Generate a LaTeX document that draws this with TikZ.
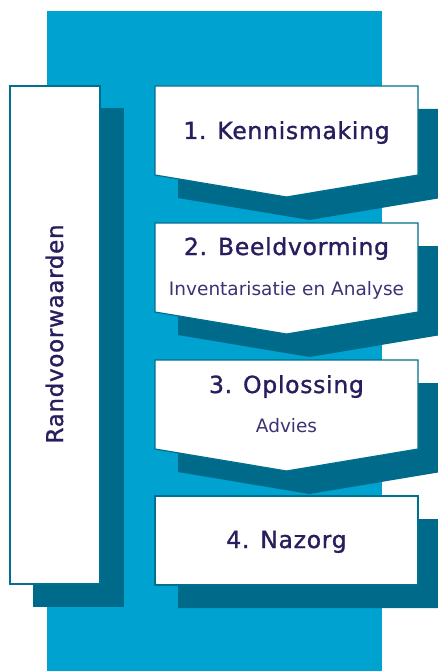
\documentclass[tikz,border=0pt]{standalone}
\usepackage{fontspec}
\setmainfont{DejaVu Sans}
\newfontfamily\heavysans{DejaVu Sans}[FakeBold=1.2, LetterSpace=3]

\definecolor{backblue}{HTML}{00A2D0}
\definecolor{shadeblue}{HTML}{006A8B}
\definecolor{rimblue}{HTML}{00708F}
\definecolor{ink}{HTML}{2A1D5E}
\definecolor{inklight}{HTML}{3B3474}

\begin{document}
\begin{tikzpicture}[x=1pt, y=-1pt,
  shade/.style={fill=shadeblue, draw=none},
  card/.style={fill=white, draw=rimblue, line width=1.2pt},
  title/.style={font=\heavysans\fontsize{23.5}{26}\selectfont, text=ink, anchor=base},
  sub/.style={font=\fontsize{18.5}{22}\selectfont, text=inklight, anchor=base},
  side/.style={font=\heavysans\fontsize{23}{28}\selectfont, text=ink, anchor=base, rotate=90}]

\useasboundingbox (0,0) rectangle (438,671);
\clip (0,0) rectangle (438,671);

% ---------- backdrop ----------
\fill[backblue] (47,11) rectangle (382,671);

% ---------- side column ----------
\fill[shade] (33,108) rectangle (124,607);
\draw[card] (10,86) rectangle (100,584);
\node[side]                  (rand) at (63,334) {Randvoorwaarden};

% ---------- step cards (top edge / depth of the point) ----------
\foreach \t/\d in {86/22, 223/22, 360/22, 496/0} {
  \begin{scope}[shift={(155,\t)}]
    \fill[shade] (23,23) -- (286,23) -- (286,112) -- (154.5,{112+\d}) -- (23,112) -- cycle;
    \draw[card] (0,0) -- (263,0) -- (263,89) -- (131.5,{89+\d}) -- (0,89) -- cycle;
  \end{scope}
}

\node[title]                 (s1) at (286.5,139) {1. Kennismaking};
\node[title]                 (s2) at (286.5,255) {2. Beeldvorming};
\node[sub]                   (s2-sub) at (286.5,295) {Inventarisatie en Analyse};
\node[title]                 (s3) at (286.5,393) {3. Oplossing};
\node[sub]                   (s3-sub) at (286.5,432) {Advies};
\node[title]                 (s4) at (286.5,548) {4. Nazorg};
\end{tikzpicture}
\end{document}
